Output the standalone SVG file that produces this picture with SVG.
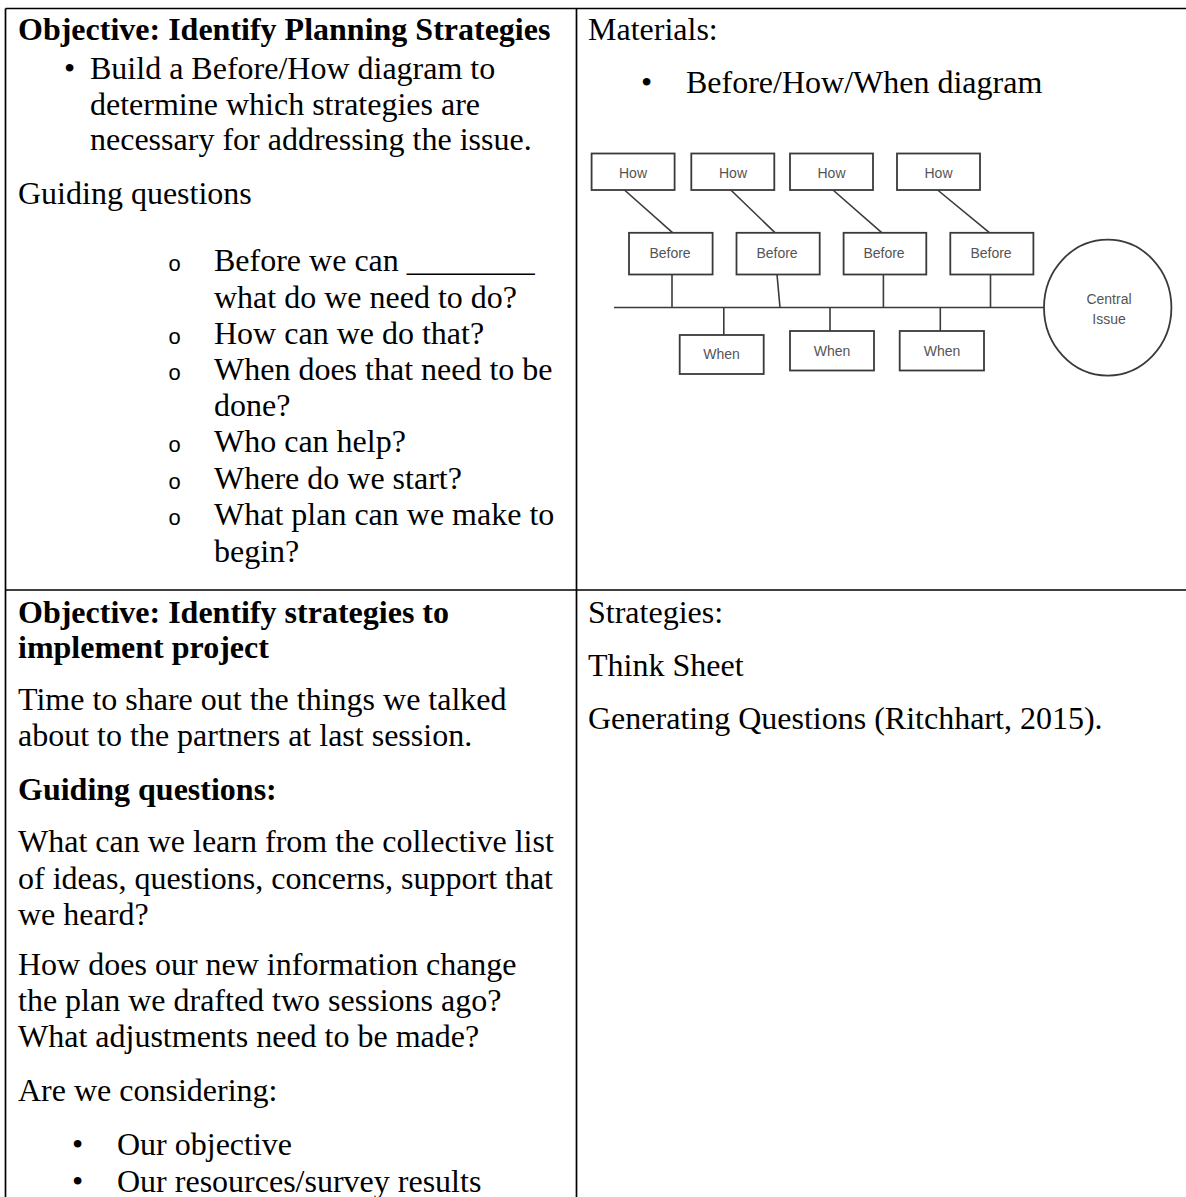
<svg xmlns="http://www.w3.org/2000/svg" width="1186" height="1197" viewBox="0 0 1186 1197">
<style>
.t{font-family:"Liberation Serif","Times New Roman",serif;font-size:32px;fill:#000}
.b{font-weight:bold}
.o{font-family:"Liberation Mono","Courier New",monospace;font-size:22px;fill:#000}
.grid{stroke:#000;stroke-width:1.7;fill:none}
.box{fill:#fff;stroke:#3a3a3a;stroke-width:1.8}
.lbl{font-family:"Liberation Sans",Arial,sans-serif;font-size:14px;fill:#555;text-anchor:middle}
.cn{stroke:#3a3a3a;stroke-width:1.6;fill:none}
</style>
<rect width="1186" height="1197" fill="#fff"/>
<g id="table">
<line class="grid" x1="5.5" y1="8.5" x2="1186" y2="8.5"/>
<line class="grid" x1="5.5" y1="8.5" x2="5.5" y2="1197"/>
<line class="grid" x1="576.5" y1="8.5" x2="576.5" y2="1197"/>
<line class="grid" x1="5.5" y1="590" x2="1186" y2="590"/>
</g>
<g id="cell-r1-left">
<text class="t b" x="18" y="40">Objective: Identify Planning Strategies</text>
<text class="t" x="64" y="79">•</text>
<text class="t" x="90" y="79">Build a Before/How diagram to</text>
<text class="t" x="90" y="114.5">determine which strategies are</text>
<text class="t" x="90" y="150">necessary for addressing the issue.</text>
<text class="t" x="18" y="204">Guiding questions</text>
<text class="o" x="168" y="271">o</text><text class="t" x="214" y="271">Before we can ________</text>
<text class="t" x="214" y="307.5">what do we need to do?</text>
<text class="o" x="168" y="344">o</text><text class="t" x="214" y="344">How can we do that?</text>
<text class="o" x="168" y="380">o</text><text class="t" x="214" y="380">When does that need to be</text>
<text class="t" x="214" y="416">done?</text>
<text class="o" x="168" y="452">o</text><text class="t" x="214" y="452">Who can help?</text>
<text class="o" x="168" y="488.5">o</text><text class="t" x="214" y="488.5">Where do we start?</text>
<text class="o" x="168" y="525">o</text><text class="t" x="214" y="525">What plan can we make to</text>
<text class="t" x="214" y="561.5">begin?</text>
</g>
<g id="cell-r1-right">
<text class="t" x="588" y="40">Materials:</text>
<text class="t" x="641" y="93">•</text>
<text class="t" x="686" y="93">Before/How/When diagram</text>
</g>
<g id="connectors">
<line class="cn" x1="614" y1="307.5" x2="1044" y2="307.5"/>
<line class="cn" x1="624.5" y1="190" x2="672.8" y2="232.8"/>
<line class="cn" x1="730.8" y1="190" x2="775.2" y2="232.8"/>
<line class="cn" x1="833" y1="190" x2="882" y2="232.8"/>
<line class="cn" x1="937.6" y1="190" x2="989.7" y2="232.8"/>
<line class="cn" x1="672" y1="274.5" x2="672" y2="307.5"/>
<line class="cn" x1="777" y1="274.5" x2="780" y2="307.5"/>
<line class="cn" x1="883.4" y1="274.5" x2="883.4" y2="307.5"/>
<line class="cn" x1="990.5" y1="274.5" x2="990.5" y2="307.5"/>
<line class="cn" x1="723.8" y1="307.5" x2="723.8" y2="335"/>
<line class="cn" x1="830" y1="307.5" x2="830" y2="331"/>
<line class="cn" x1="940.3" y1="307.5" x2="940.3" y2="331"/>
</g>
<g id="how1"><rect class="box" x="591.6" y="153.5" width="83" height="36.5"/><text class="lbl" x="633" y="177.5">How</text></g>
<g id="how2"><rect class="box" x="691.3" y="153.5" width="83" height="36.5"/><text class="lbl" x="733" y="177.5">How</text></g>
<g id="how3"><rect class="box" x="790" y="153.5" width="83" height="36.5"/><text class="lbl" x="831.5" y="177.5">How</text></g>
<g id="how4"><rect class="box" x="897" y="153.5" width="83" height="36.5"/><text class="lbl" x="938.5" y="177.5">How</text></g>
<g id="before1"><rect class="box" x="629" y="232.8" width="83.6" height="41.7"/><text class="lbl" x="670" y="257.5">Before</text></g>
<g id="before2"><rect class="box" x="736.5" y="232.8" width="83.2" height="41.7"/><text class="lbl" x="777" y="257.5">Before</text></g>
<g id="before3"><rect class="box" x="843.6" y="232.8" width="82.7" height="41.7"/><text class="lbl" x="884" y="257.5">Before</text></g>
<g id="before4"><rect class="box" x="950.3" y="232.8" width="83.1" height="41.7"/><text class="lbl" x="991" y="257.5">Before</text></g>
<g id="when1"><rect class="box" x="679.7" y="335" width="84" height="39"/><text class="lbl" x="721.5" y="359">When</text></g>
<g id="when2"><rect class="box" x="790" y="331" width="84" height="39.5"/><text class="lbl" x="832" y="355.5">When</text></g>
<g id="when3"><rect class="box" x="899.7" y="331" width="84.3" height="39.5"/><text class="lbl" x="942" y="355.5">When</text></g>
<g id="central"><ellipse class="box" cx="1107.7" cy="307.6" rx="63.7" ry="68"/><text class="lbl" x="1109" y="303.5">Central</text><text class="lbl" x="1109" y="323.5">Issue</text></g>
<g id="cell-r2-left">
<text class="t b" x="18" y="622.5">Objective: Identify strategies to</text>
<text class="t b" x="18" y="658">implement project</text>
<text class="t" x="18" y="710">Time to share out the things we talked</text>
<text class="t" x="18" y="746">about to the partners at last session.</text>
<text class="t b" x="18" y="799.5">Guiding questions:</text>
<text class="t" x="18" y="852">What can we learn from the collective list</text>
<text class="t" x="18" y="888.5">of ideas, questions, concerns, support that</text>
<text class="t" x="18" y="925">we heard?</text>
<text class="t" x="18" y="975">How does our new information change</text>
<text class="t" x="18" y="1011">the plan we drafted two sessions ago?</text>
<text class="t" x="18" y="1047">What adjustments need to be made?</text>
<text class="t" x="18" y="1101">Are we considering:</text>
<text class="t" x="72" y="1155">•</text><text class="t" x="117" y="1155">Our objective</text>
<text class="t" x="72" y="1192">•</text><text class="t" x="117" y="1192">Our resources/survey results</text>
</g>
<g id="cell-r2-right">
<text class="t" x="588" y="622.5">Strategies:</text>
<text class="t" x="588" y="675.5">Think Sheet</text>
<text class="t" x="588" y="729">Generating Questions (Ritchhart, 2015).</text>
</g>
</svg>
